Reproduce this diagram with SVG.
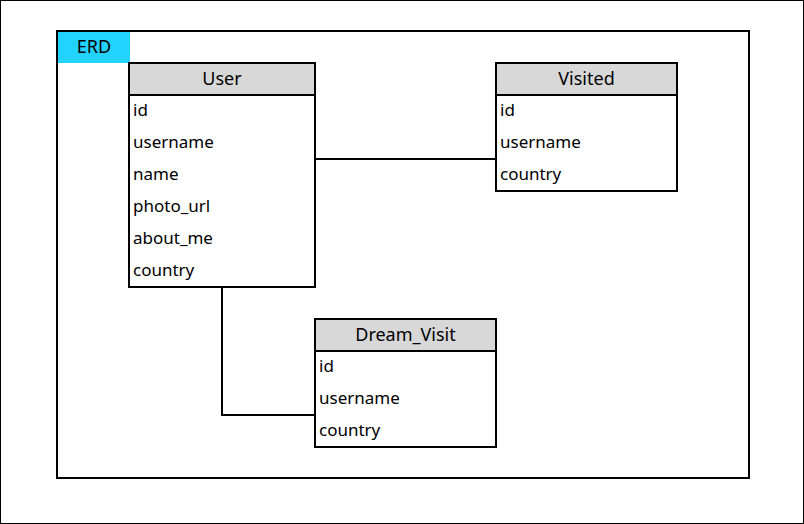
<svg xmlns="http://www.w3.org/2000/svg" width="804" height="524" viewBox="0 0 804 524">
<style>
.t{font-family:"Noto Sans","Open Sans",sans-serif;font-size:17px;fill:#000}
.h{text-anchor:middle;font-size:18px}
.box{fill:#fff;stroke:#000;stroke-width:2}
.hd{fill:#d8d8d8;stroke:#000;stroke-width:2}
.c{fill:none;stroke:#000;stroke-width:2}
</style>
<rect x="0.5" y="0.5" width="803" height="523" fill="#fff" stroke="#000" stroke-width="1"/>
<g id="frame">
<rect x="57" y="31" width="692" height="447" fill="#fff" stroke="#000" stroke-width="2"/>
<rect x="58" y="32" width="72" height="31" fill="#22d3ff"/>
<text class="t h" x="94" y="53">ERD</text>
</g>
<g id="connectors">
<path class="c" d="M315 159H496"/>
<path class="c" d="M222 287V415H315"/>
</g>
<g id="user">
<rect class="box" x="129" y="63" width="186" height="224"/>
<rect class="hd" x="129" y="63" width="186" height="32"/>
<text class="t h" x="222" y="85">User</text>
<text class="t" x="133" y="116">id</text>
<text class="t" x="133" y="148">username</text>
<text class="t" x="133" y="180">name</text>
<text class="t" x="133" y="212">photo_url</text>
<text class="t" x="133" y="244">about_me</text>
<text class="t" x="133" y="276">country</text>
</g>
<g id="visited">
<rect class="box" x="496" y="63" width="181" height="128"/>
<rect class="hd" x="496" y="63" width="181" height="32"/>
<text class="t h" x="586.5" y="85">Visited</text>
<text class="t" x="500" y="116">id</text>
<text class="t" x="500" y="148">username</text>
<text class="t" x="500" y="180">country</text>
</g>
<g id="dream_visit">
<rect class="box" x="315" y="319" width="181" height="128"/>
<rect class="hd" x="315" y="319" width="181" height="32"/>
<text class="t h" x="405.5" y="341">Dream_Visit</text>
<text class="t" x="319" y="372">id</text>
<text class="t" x="319" y="404">username</text>
<text class="t" x="319" y="436">country</text>
</g>
</svg>
